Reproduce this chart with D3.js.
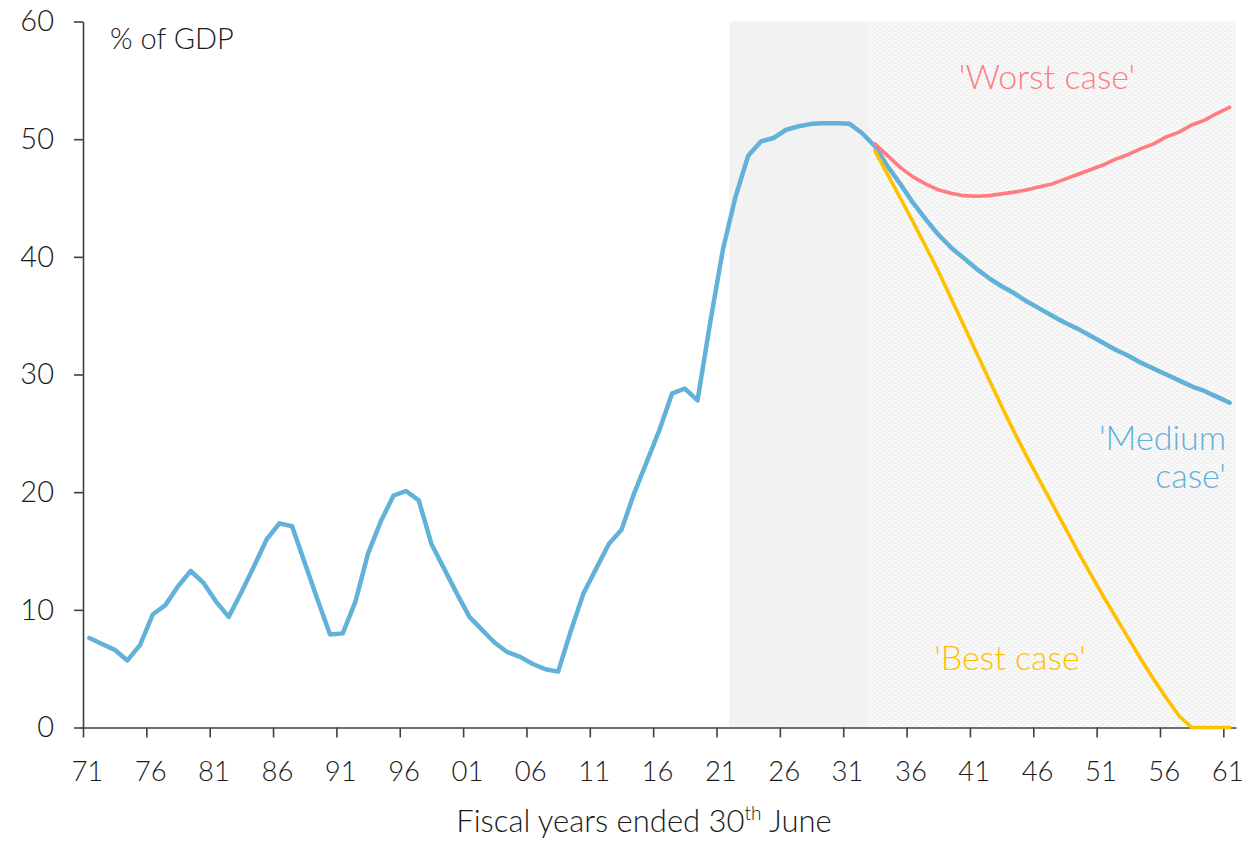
<!DOCTYPE html>
<html>
<head>
<meta charset="utf-8">
<script src="https://cdn.jsdelivr.net/npm/d3@7"></script>
<style>
  html, body { margin: 0; padding: 0; background: #ffffff; }
  svg { display: block; font-family: Lato, "Noto Sans", sans-serif; font-weight: 300; }
</style>
</head>
<body>
<svg id="chart" width="1243" height="841"></svg>
<script>
// ---- data ----
const firstYear = 1971;
const lastYear = 2061;
const years = d3.range(firstYear, lastYear + 1);
const tickYears = [1971, 1976, 1981, 1986, 1991, 1996, 2001, 2006, 2011, 2016, 2021, 2026, 2031, 2036, 2041, 2046, 2051, 2056, 2061];
const yTicks = [0, 10, 20, 30, 40, 50, 60];

// 'Medium case' (historical + central projection), 1971..2061
const mediumCase = [
  7.6, 7.1, 6.6, 5.7, 7.0, 9.6, 10.4, 12.0, 13.3, 12.3,      // 1971-1980
  10.7, 9.4, 11.5, 13.7, 16.0, 17.35, 17.1, 14.0, 10.9, 7.9, // 1981-1990
  8.0, 10.7, 14.8, 17.5, 19.7, 20.1, 19.3, 15.6, 13.5, 11.4, // 1991-2000
  9.4, 8.3, 7.2, 6.4, 6.0, 5.4, 4.95, 4.75, 8.2, 11.4,       // 2001-2010
  13.5, 15.6, 16.8, 19.9, 22.6, 25.3, 28.4, 28.8, 27.8, 34.4, // 2011-2020
  40.6, 45.1, 48.6, 49.8, 50.1, 50.8, 51.1, 51.3, 51.35, 51.35, // 2021-2030
  51.3, 50.5, 49.4, 47.7, 46.2, 44.6, 43.2, 41.9, 40.8, 39.9, // 2031-2040
  39.0, 38.2, 37.5, 36.9, 36.2, 35.6, 35.0, 34.4, 33.9, 33.3, // 2041-2050
  32.7, 32.1, 31.6, 31.0, 30.5, 30.0, 29.5, 29.0, 28.6, 28.1, // 2051-2060
  27.6                                                        // 2061
];
// scenarios start in 2033
const scenarioStart = 2033;
const worstCase = [
  49.6, 48.6, 47.6, 46.8, 46.2, 45.7, 45.4, 45.2, 45.15, 45.2, // 2033-2042
  45.35, 45.5, 45.7, 45.95, 46.2, 46.6, 47.0, 47.4, 47.8, 48.3, // 2043-2052
  48.7, 49.2, 49.6, 50.2, 50.6, 51.2, 51.6, 52.2, 52.7          // 2053-2061
];
const bestCase = [
  49.0, 47.0, 45.0, 43.0, 40.9, 38.8, 36.5, 34.2, 31.9, 29.6,  // 2033-2042
  27.3, 25.1, 23.0, 21.0, 19.0, 17.0, 15.0, 13.1, 11.2, 9.4,   // 2043-2052
  7.6, 5.8, 4.1, 2.5, 1.0, 0, 0, 0, 0                          // 2053-2061
];
const forecastStart = 2022;   // solid grey band
const scenarioBandStart = 2033; // dotted band

// ---- layout ----
const svg = d3.select("#chart");
const plotL = 83, plotR = 1236, plotT = 21.5, plotB = 727.5;
const x = d3.scaleBand().domain(years).range([plotL, plotR]).padding(0);
const bw = x.bandwidth();
const xEdge = d3.scaleLinear().domain([firstYear, lastYear + 1]).range([plotL, plotR]);
const y = d3.scaleLinear().domain([0, 60]).range([plotB, plotT]);

const colBlue = "#61b1d9", colRed = "#ff7c80", colYellow = "#ffc000";
const textCol = "#1a1a1a", axisCol = "#404040";
const fontFam = "Lato, 'Noto Sans', sans-serif";

// pattern
const defs = svg.append("defs");
const pat = defs.append("pattern").attr("id", "dots").attr("patternUnits", "userSpaceOnUse")
  .attr("width", 6).attr("height", 4);
pat.append("rect").attr("width", 6).attr("height", 4).attr("fill", "#f2f2f2");
pat.append("rect").attr("x", 0).attr("y", 0).attr("width", 3).attr("height", 1).attr("fill", "#ffffff");
pat.append("rect").attr("x", 3).attr("y", 2).attr("width", 3).attr("height", 1).attr("fill", "#ffffff");

// shaded regions
svg.append("rect")
  .attr("x", x(forecastStart)).attr("y", y(60))
  .attr("width", x(scenarioBandStart) - x(forecastStart)).attr("height", y(0) - y(60))
  .attr("fill", "#f2f2f2");
svg.append("rect")
  .attr("x", x(scenarioBandStart)).attr("y", y(60))
  .attr("width", plotR - x(scenarioBandStart)).attr("height", y(0) - y(60))
  .attr("fill", "url(#dots)");

// axes
const yAxis = svg.append("g").attr("transform", `translate(${plotL},0)`)
  .call(d3.axisLeft(y).tickValues(yTicks).tickSize(9).tickSizeOuter(0).tickPadding(20));
yAxis.select(".domain").attr("stroke", axisCol).attr("stroke-width", 1.6);
yAxis.selectAll(".tick line").attr("stroke", axisCol).attr("stroke-width", 1.6);
yAxis.selectAll("text").attr("fill", textCol).attr("font-size", 29).attr("font-family", fontFam)
  .attr("font-weight", 300);

const xAxis = svg.append("g").attr("transform", `translate(0,${plotB})`)
  .call(d3.axisBottom(xEdge).tickValues(tickYears).tickSize(10).tickSizeOuter(0)
    .tickFormat(d => String(d).slice(2)));
xAxis.select(".domain").attr("stroke", axisCol).attr("stroke-width", 1.6);
xAxis.selectAll(".tick line").attr("stroke", axisCol).attr("stroke-width", 1.6);
xAxis.selectAll("text").attr("fill", textCol).attr("font-size", 27.5).attr("font-family", fontFam)
  .attr("font-weight", 300)
  .attr("x", bw / 2 - 2.5).attr("y", 0).attr("dy", null).attr("transform", "translate(0,53)");

// lines
const line = d3.line().x(d => x(d.year) + bw / 2).y(d => y(d.v));
const medData = years.map((yr, i) => ({ year: yr, v: mediumCase[i] }));
const worstData = worstCase.map((v, i) => ({ year: scenarioStart + i, v }));
const bestData = bestCase.map((v, i) => ({ year: scenarioStart + i, v }));

svg.append("path").datum(medData).attr("d", line).attr("fill", "none")
  .attr("stroke", colBlue).attr("stroke-width", 4.5).attr("stroke-linejoin", "round").attr("stroke-linecap", "round");
svg.append("path").datum(worstData).attr("d", line).attr("fill", "none")
  .attr("stroke", colRed).attr("stroke-width", 3.6).attr("stroke-linejoin", "round").attr("stroke-linecap", "round");
svg.append("path").datum(bestData).attr("d", line).attr("fill", "none")
  .attr("stroke", colYellow).attr("stroke-width", 3.6).attr("stroke-linejoin", "round").attr("stroke-linecap", "round");

// texts
svg.append("text").attr("x", 110).attr("y", 49).attr("font-size", 29).attr("fill", textCol).text("% of GDP");
svg.append("text").attr("x", 1047).attr("y", 89).attr("text-anchor", "middle").attr("font-size", 34)
  .attr("fill", colRed).text("'Worst case'");
svg.append("text").attr("x", 1226).attr("y", 450).attr("text-anchor", "end").attr("font-size", 34)
  .attr("fill", colBlue).text("'Medium");
svg.append("text").attr("x", 1226).attr("y", 488).attr("text-anchor", "end").attr("font-size", 34)
  .attr("fill", colBlue).text("case'");
svg.append("text").attr("x", 1010).attr("y", 670).attr("text-anchor", "middle").attr("font-size", 34)
  .attr("fill", colYellow).text("'Best case'");

const title = svg.append("text").attr("x", 644).attr("y", 832).attr("text-anchor", "middle")
  .attr("font-size", 31).attr("fill", textCol);
title.append("tspan").text("Fiscal years ended 30");
title.append("tspan").attr("font-size", 19).attr("dy", -12).text("th");
title.append("tspan").attr("dy", 12).text(" June");
</script>
</body>
</html>
